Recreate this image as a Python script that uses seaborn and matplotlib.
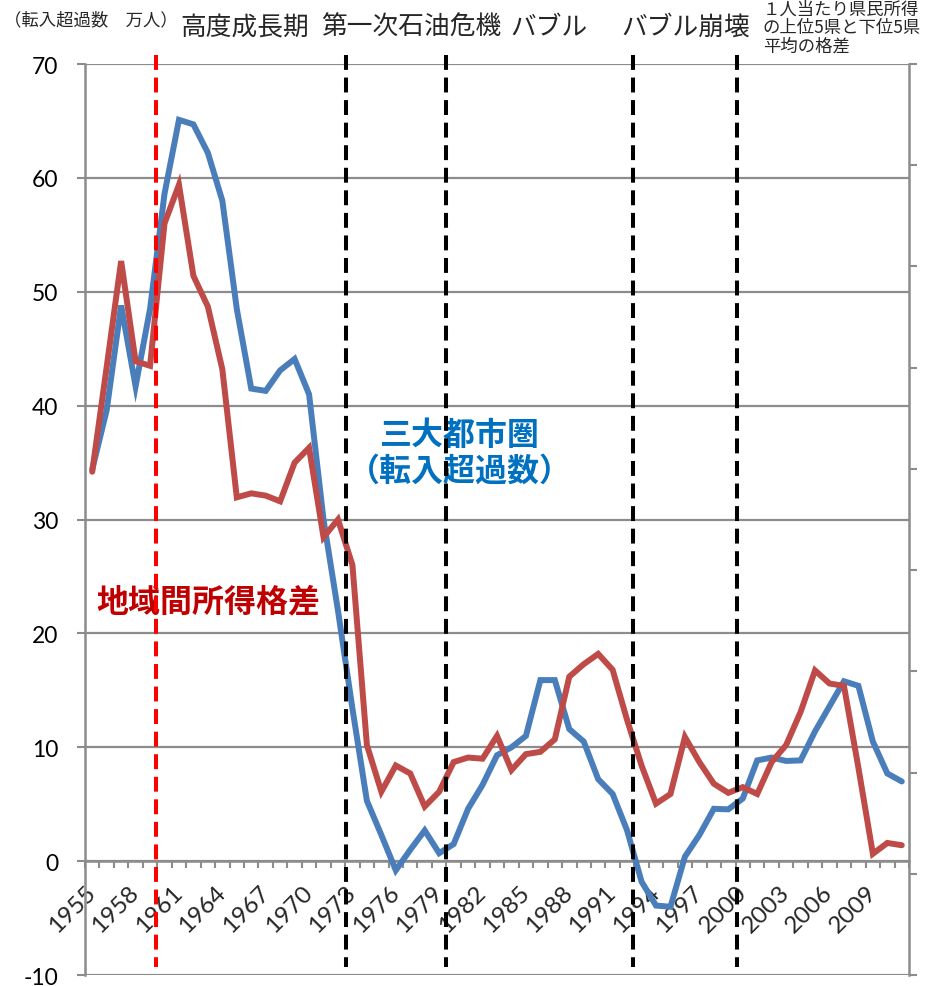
import numpy as np
import pandas as pd
import matplotlib
matplotlib.use("Agg")
import matplotlib.pyplot as plt
import seaborn as sns

# --- data -------------------------------------------------------------
years = list(range(1955, 2012))

# 三大都市圏の転入超過数（万人）
metro_inflow = [
    34.4, 39.6, 48.8, 41.7, 48.5, 58.6, 65.1, 64.7, 62.2, 58.0,
    48.5, 41.5, 41.3, 43.1, 44.1, 41.0, 30.0, 22.0, 13.4, 5.3,
    2.3, -0.8, 1.0, 2.7, 0.7, 1.5, 4.6, 6.7, 9.3, 10.0,
    11.0, 15.9, 15.9, 11.6, 10.5, 7.2, 5.9, 2.7, -1.8, -3.9,
    -4.0, 0.4, 2.3, 4.6, 4.55, 5.5, 8.85, 9.1, 8.8, 8.85,
    11.4, 13.6, 15.8, 15.4, 10.5, 7.7, 7.0,
]

# 地域間所得格差（右軸）
income_gap = [
    34.2, 43.4, 52.7, 43.9, 43.5, 56.0, 59.4, 51.4, 48.7, 43.2,
    31.95, 32.3, 32.1, 31.6, 35.0, 36.3, 28.45, 30.0, 26.0, 10.2,
    6.1, 8.4, 7.7, 4.8, 6.1, 8.7, 9.1, 9.0, 11.0, 8.0,
    9.4, 9.6, 10.7, 16.2, 17.3, 18.2, 16.8, 12.4, 8.4, 5.05,
    5.9, 10.9, 8.7, 6.8, 6.0, 6.5, 5.9, 8.7, 10.2, 13.1,
    16.75, 15.6, 15.4, 8.2, 0.65, 1.6, 1.4,
]

tick_years = list(range(1955, 2010, 3))
left_ticks = list(range(-10, 71, 10))

era_names = ["高度成長期", "第一次石油危機", "バブル", "バブル崩壊"]
era_boundaries = [1972.55, 1979.5, 1992.4, 1999.6]
growth_start = 1959.4

df = pd.DataFrame({"year": years, "metro": metro_inflow, "gap": income_gap})

# --- style ------------------------------------------------------------
sns.set_theme(style="white")
plt.rcParams["font.family"] = ["Noto Sans CJK JP", "DejaVu Sans"]
NUM_FONT = ["Lato", "DejaVu Sans"]

GRID = "#8c8c8c"
BLUE = "#4A7EBB"
RED = "#BE4B48"

fig = plt.figure(figsize=(9.35, 9.87), dpi=100)
ax = fig.add_axes([0.0909, 0.0111, 0.8813, 0.9230])
ax2 = ax.twinx()

# metro-area net in-migration on the left axis
sns.lineplot(data=df, x="year", y="metro", ax=ax, color=BLUE, lw=4.3,
             solid_joinstyle="miter", zorder=3)
# income gap on the secondary axis
sns.lineplot(data=df, x="year", y="gap", ax=ax2, color=RED, lw=4.3,
             solid_joinstyle="miter", zorder=3)

for a in (ax, ax2):
    a.set_xlim(1954.5, 2011.5)
    a.set_ylim(-10, 70)
    a.set_xlabel("")
    a.set_ylabel("")

# left axis
ax.set_yticks(left_ticks)
ax.set_yticklabels([str(v) for v in left_ticks], fontsize=16.5,
                   family=NUM_FONT, color="black", va="center_baseline")
ax.tick_params(axis="y", direction="out", length=6, width=1.5, color=GRID, pad=13)
ax.grid(axis="y", color=GRID, lw=1.6)
ax.grid(axis="x", visible=False)
for side in ("top", "right"):
    ax.spines[side].set_visible(False)
ax.spines["left"].set_color(GRID)
ax.spines["left"].set_linewidth(1.8)
ax.spines["bottom"].set_position(("data", 0))
ax.spines["bottom"].set_color(GRID)
ax.spines["bottom"].set_linewidth(1.8)

# category axis: labels every three years, marks at each category boundary
ax.set_xticks(tick_years)
ax.set_xticklabels([str(y) for y in tick_years], rotation=45, ha="right",
                   va="center", rotation_mode="anchor", fontsize=17.5,
                   family=NUM_FONT)
ax.set_xticks(np.arange(1954.5, 2012, 1.0), minor=True)
ax.tick_params(axis="x", which="major", length=0, pad=20)
ax.tick_params(axis="x", which="minor", direction="out", length=5, width=1.5,
               color=GRID, bottom=True)

# secondary axis: tick marks only
ax2.set_yticks(np.linspace(-10, 70, 10))
ax2.set_yticklabels([])
ax2.tick_params(axis="y", direction="out", length=6, width=1.5, color=GRID)
for side in ("top", "left", "bottom"):
    ax2.spines[side].set_visible(False)
ax2.spines["right"].set_color(GRID)
ax2.spines["right"].set_linewidth(1.8)
ax2.grid(False)

# period boundaries
dash = (0, (3.7, 1.9))
ax2.plot([growth_start, growth_start], [70.8, -9.3], color="#FF0000", lw=2.9,
         ls=dash, clip_on=False, zorder=5)
for xb in era_boundaries:
    ax2.plot([xb, xb], [70.8, -9.3], color="black", lw=2.9, ls=dash,
             clip_on=False, zorder=5)

# period names along the top
era_x = [0.262, 0.4396, 0.587, 0.7337]
for name, xf in zip(era_names, era_x):
    fig.text(xf, 0.9716, name, ha="center", va="center", fontsize=18.5)

fig.text(0.004, 0.9797, "（転入超過数　万人）", ha="left", va="center", fontsize=12.5)
fig.text(0.816, 0.9995, "１人当たり県民所得\nの上位5県と下位5県\n平均の格差",
         ha="left", va="top", fontsize=12.5, linespacing=1.05)

# series captions
ax2.text(1980.45, 35.9, "三大都市圏\n（転入超過数）", ha="center", va="center",
         fontsize=23, fontweight="bold", color="#0070C0", linespacing=1.15,
         zorder=4)
ax2.text(1963.0, 22.8, "地域間所得格差", ha="center", va="center",
         fontsize=23, fontweight="bold", color="#C00000", zorder=4)

fig.savefig("out.png", dpi=100)
